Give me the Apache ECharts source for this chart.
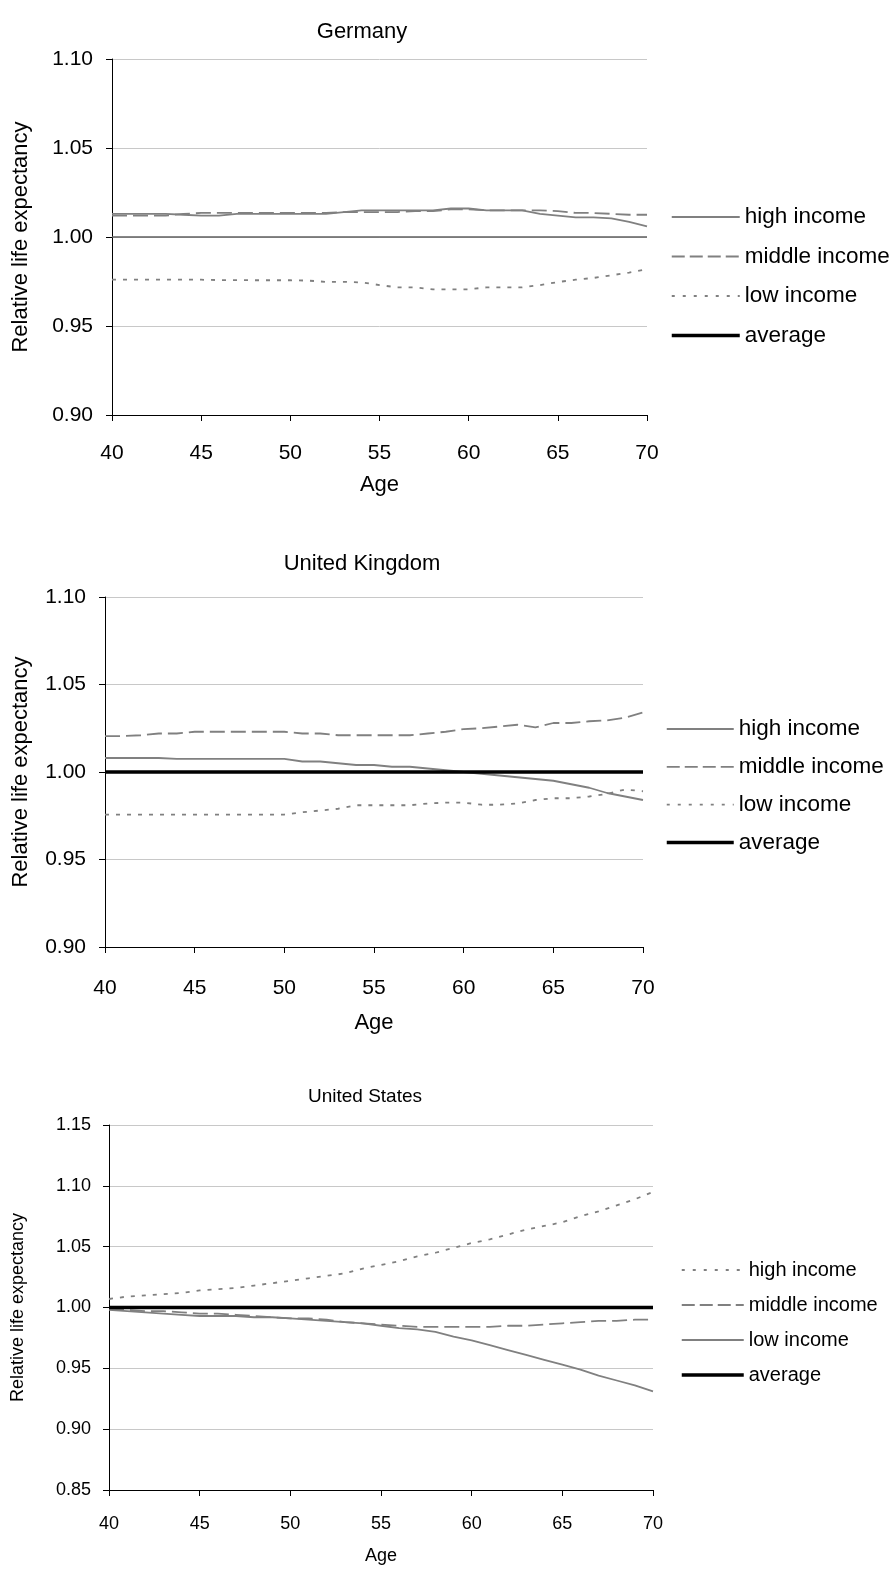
<!DOCTYPE html>
<html><head><meta charset="utf-8">
<script src="https://cdn.jsdelivr.net/npm/echarts@6/dist/echarts.min.js"></script>
<style>html,body{margin:0;padding:0;background:#fff;width:896px;height:1570px;overflow:hidden}
.c{position:absolute;left:0;width:896px}</style></head>
<body>
<div id="de" class="c" style="top:0;height:530px"></div>
<div id="uk" class="c" style="top:530px;height:530px"></div>
<div id="us" class="c" style="top:1060px;height:510px"></div>
<script>
const ages = [40,41,42,43,44,45,46,47,48,49,50,51,52,53,54,55,56,57,58,59,60,61,62,63,64,65,66,67,68,69,70];
const xTicks = [40,45,50,55,60,65,70];

// Germany
const deHigh   = [1.013,1.013,1.013,1.013,1.0125,1.012,1.012,1.013,1.013,1.013,1.013,1.013,1.013,1.014,1.015,1.015,1.015,1.015,1.015,1.016,1.016,1.015,1.015,1.015,1.013,1.012,1.011,1.011,1.0105,1.0085,1.006];
const deMiddle = [1.012,1.012,1.012,1.012,1.013,1.0135,1.0135,1.0135,1.0135,1.0135,1.0135,1.0135,1.0135,1.014,1.014,1.014,1.014,1.0145,1.0145,1.0155,1.0155,1.015,1.015,1.015,1.015,1.0145,1.0135,1.0135,1.013,1.0125,1.0125];
const deLow    = [0.976,0.976,0.976,0.976,0.976,0.976,0.9758,0.9758,0.9757,0.9757,0.9757,0.9755,0.9748,0.9748,0.9745,0.973,0.9717,0.9717,0.9706,0.9706,0.9706,0.9717,0.9717,0.9717,0.973,0.9747,0.976,0.977,0.9785,0.980,0.982];
const deAvg    = [1,1,1,1,1,1,1,1,1,1,1,1,1,1,1,1,1,1,1,1,1,1,1,1,1,1,1,1,1,1,1];

// United Kingdom
const ukHigh   = [1.008,1.008,1.008,1.008,1.0075,1.0075,1.0075,1.0075,1.0075,1.0075,1.0075,1.006,1.006,1.005,1.004,1.004,1.003,1.003,1.002,1.001,1.000,0.999,0.998,0.997,0.996,0.995,0.993,0.991,0.988,0.986,0.984];
const ukMiddle = [1.0205,1.0205,1.021,1.022,1.022,1.023,1.023,1.023,1.023,1.023,1.023,1.022,1.022,1.021,1.021,1.021,1.021,1.021,1.022,1.023,1.0245,1.025,1.026,1.027,1.0255,1.028,1.028,1.029,1.0295,1.031,1.034];
const ukLow    = [0.9757,0.9757,0.9757,0.9757,0.9757,0.9757,0.9757,0.9757,0.9757,0.9757,0.9757,0.977,0.978,0.979,0.981,0.981,0.981,0.981,0.982,0.9825,0.9825,0.9813,0.9813,0.982,0.984,0.985,0.985,0.986,0.9875,0.990,0.989];
const ukAvg    = [1,1,1,1,1,1,1,1,1,1,1,1,1,1,1,1,1,1,1,1,1,1,1,1,1,1,1,1,1,1,1];

// United States
const usHigh   = [1.007,1.009,1.010,1.011,1.012,1.014,1.015,1.016,1.018,1.020,1.022,1.024,1.026,1.028,1.032,1.035,1.038,1.042,1.045,1.049,1.053,1.056,1.060,1.064,1.067,1.070,1.075,1.079,1.084,1.089,1.095];
const usMiddle = [0.999,0.998,0.997,0.997,0.996,0.995,0.995,0.994,0.993,0.992,0.991,0.991,0.990,0.988,0.987,0.986,0.985,0.984,0.984,0.984,0.984,0.984,0.985,0.985,0.986,0.987,0.988,0.989,0.989,0.990,0.990];
const usLow    = [0.998,0.997,0.996,0.995,0.994,0.993,0.993,0.993,0.992,0.992,0.991,0.990,0.989,0.988,0.987,0.985,0.983,0.982,0.980,0.976,0.973,0.969,0.965,0.961,0.957,0.953,0.949,0.944,0.940,0.936,0.931];
const usAvg    = [1,1,1,1,1,1,1,1,1,1,1,1,1,1,1,1,1,1,1,1,1,1,1,1,1,1,1,1,1,1,1];

const FONT = 'Liberation Sans, Arial, sans-serif';
const GRAY = '#808080';
const SOLID = {type:'solid'}, DASH = {type:[15,6]}, DOT = {type:[4,7]};
const NOSYM = {color:'rgba(0,0,0,0)', borderWidth:0, opacity:0};

function pairs(vals){ return ages.map((a,i)=>[a, vals[i]]); }

function build(el, L, title, yMin, yMax, series, avgColor, avgWidth){
  const chart = echarts.init(document.getElementById(el), null, {renderer:'canvas'});
  const ser = series.map(s => ({
    name: s.name, type:'line', symbol:'none', data: pairs(s.data), animation:false,
    lineStyle:{color:GRAY, width:1.8, type:s.style.type}, itemStyle:{color:GRAY}, z:3
  }));
  ser.push({name:'average', type:'line', symbol:'none', data: pairs(series.avg), animation:false,
    lineStyle:{color:avgColor, width:avgWidth}, itemStyle:{color:avgColor}, z:4});
  const legendData = series.map(s => ({name:s.name, itemStyle:NOSYM,
    lineStyle:{color:GRAY, width:1.8, type: s.style === DASH ? [13,5] : (s.style === DOT ? [3,8] : 'solid')}}));
  legendData.push({name:'average', itemStyle:NOSYM, lineStyle:{color:'#000', width:3.5, type:'solid'}});
  chart.setOption({
    animation:false,
    textStyle:{fontFamily:FONT},
    title:{text:title, left:L.titleX, top:L.titleY, textAlign:'center', padding:0,
      textStyle:{fontFamily:FONT, fontSize:L.titleSize, fontWeight:'normal', color:'#000'}},
    legend:{orient:'vertical', left:L.legX, top:L.legY, itemWidth:L.legW, itemHeight:14, padding:0,
      itemGap:L.legGap, data:legendData, selectedMode:false, itemStyle:NOSYM,
      textStyle:{fontFamily:FONT, fontSize:L.legSize, color:'#000', lineHeight:L.legLH, height:L.legLH}},
    grid:{left:L.left, top:L.top, width:L.width, height:L.height, containLabel:false},
    xAxis:{type:'value', min:40, max:70, interval:5,
      name:'Age', nameLocation:'middle', nameGap:L.xNameGap,
      nameTextStyle:{fontFamily:FONT, fontSize:L.nameSize, color:'#000'},
      axisLine:{show:true, onZero:false, lineStyle:{color:'#000', width:1}},
      axisTick:{show:true, length:6, inside:false, lineStyle:{color:'#000'}},
      axisLabel:{fontFamily:FONT, fontSize:L.tickSize, color:'#000', margin:L.xLabMargin,
        formatter: v => xTicks.includes(v) ? String(v) : ''},
      splitLine:{show:false}},
    yAxis:{type:'value', min:yMin, max:yMax, interval:0.05,
      name:'Relative life expectancy', nameLocation:'middle', nameRotate:90, nameGap:L.yNameGap,
      nameTextStyle:{fontFamily:FONT, fontSize:L.nameSize, color:'#000'},
      axisLine:{show:true, lineStyle:{color:'#000', width:1}},
      axisTick:{show:true, length:6, inside:false, lineStyle:{color:'#000'}},
      axisLabel:{fontFamily:FONT, fontSize:L.tickSize, color:'#000', margin:L.yLabMargin,
        formatter: v => v.toFixed(2)},
      splitLine:{show:true, lineStyle:{color:'#c8c8c8', width:1}}},
    series: ser
  });
}

const deSeries = [{name:'high income', data:deHigh, style:SOLID},{name:'middle income', data:deMiddle, style:DASH},{name:'low income', data:deLow, style:DOT}];
deSeries.avg = deAvg;
build('de', {titleX:362, titleY:21, titleSize:22, legX:670, legY:205, legW:68, legGap:15.5, legLH:24, legSize:22.5,
  left:112, top:59, width:535, height:356, xNameGap:59, yNameGap:80, nameSize:22, tickSize:21, xLabMargin:28, yLabMargin:19},
  'Germany', 0.90, 1.10, deSeries, '#606060', 1.5);

const ukSeries = [{name:'high income', data:ukHigh, style:SOLID},{name:'middle income', data:ukMiddle, style:DASH},{name:'low income', data:ukLow, style:DOT}];
ukSeries.avg = ukAvg;
build('uk', {titleX:362, titleY:23, titleSize:22, legX:665, legY:187, legW:67, legGap:13.8, legLH:24, legSize:22.5,
  left:105, top:67, width:538, height:350, xNameGap:65, yNameGap:73, nameSize:22, tickSize:21, xLabMargin:31, yLabMargin:19},
  'United Kingdom', 0.90, 1.10, ukSeries, '#000', 3.5);

const usSeries = [{name:'high income', data:usHigh, style:DOT},{name:'middle income', data:usMiddle, style:DASH},{name:'low income', data:usLow, style:SOLID}];
usSeries.avg = usAvg;
build('us', {titleX:365, titleY:27, titleSize:19, legX:680, legY:199, legW:62, legGap:13, legLH:22, legSize:20,
  left:109, top:65, width:544, height:370, xNameGap:57, yNameGap:82, nameSize:18, tickSize:18, xLabMargin:25, yLabMargin:18},
  'United States', 0.85, 1.15, usSeries, '#000', 3.5);
</script>
</body></html>
